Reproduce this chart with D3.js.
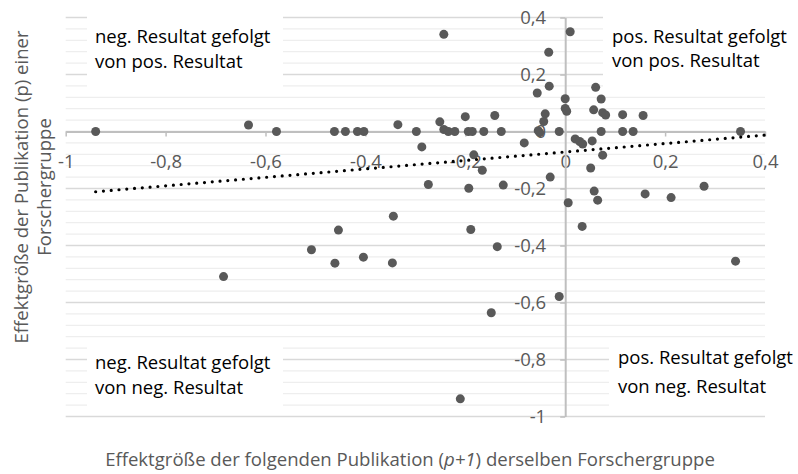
<!DOCTYPE html>
<html>
<head>
<meta charset="utf-8">
<script src="https://cdn.jsdelivr.net/npm/d3@7/dist/d3.min.js"></script>
<style>
  body { margin: 0; background: #fff; }
  text { font-family: "Open Sans", sans-serif; }
</style>
</head>
<body>
<svg id="chart" width="798" height="474"></svg>
<script>
// Effektgröße der folgenden Publikation (p+1) -> x
const nextEffect = [
  -0.940, -0.634, -0.578, -0.462, -0.440, -0.416, -0.403, -0.335, -0.298, -0.287,
  -0.251, -0.243, -0.243, -0.234, -0.221, -0.200, -0.194, -0.186, -0.163, -0.141,
  -0.128, -0.082, -0.056, -0.033, -0.032, -0.040, -0.043, -0.054, -0.051, -0.012,
   0.000,  0.000,  0.003,  0.010,  0.020,  0.029,  0.035,  0.054,  0.057,  0.061,
   0.072,  0.075,  0.081,  0.072,  0.075,  0.051,  0.115,  0.115,  0.136,  0.156,
   0.351, -0.183, -0.166, -0.274, -0.193, -0.124, -0.030,  0.006,  0.058,  0.065,
   0.160,  0.212,  0.278, -0.344, -0.454, -0.189,  0.034, -0.508, -0.461, -0.404,
  -0.346, -0.684, -0.136,  0.341, -0.012, -0.148, -0.210
];
// Effektgröße der Publikation (p) -> y
const prevEffect = [
   0.000,  0.023,  0.000,  0.000,  0.000,  0.000,  0.000,  0.024,  0.000, -0.054,
   0.034,  0.341,  0.007,  0.000,  0.000,  0.052,  0.000,  0.000,  0.000,  0.056,
   0.000, -0.040,  0.135,  0.278,  0.159,  0.062,  0.035,  0.003, -0.004,  0.000,
   0.115,  0.081,  0.071,  0.350, -0.026, -0.035, -0.044, -0.033,  0.076,  0.155,
   0.114,  0.066,  0.058,  0.000, -0.083, -0.128,  0.059,  0.000,  0.000,  0.056,
   0.000, -0.082, -0.136, -0.186, -0.199, -0.188, -0.160, -0.250, -0.209, -0.241,
  -0.219, -0.232, -0.192, -0.297, -0.346, -0.344, -0.333, -0.415, -0.462, -0.441,
  -0.461, -0.509, -0.404, -0.455, -0.579, -0.636, -0.938
];
const xTicks = [-1, -0.8, -0.6, -0.4, -0.2, 0, 0.2, 0.4];
const yTicks = [-1, -0.8, -0.6, -0.4, -0.2, 0, 0.2, 0.4];
const quadrantText = [
  ["neg. Resultat gefolgt", "von pos. Resultat"],
  ["pos. Resultat gefolgt", "von pos. Resultat"],
  ["neg. Resultat gefolgt", "von neg. Resultat"],
  ["pos. Resultat gefolgt", "von neg. Resultat"]
];

const svg = d3.select("#chart");
const x = d3.scaleLinear().domain([-1, 0.4]).range([65.7, 765]);
const y = d3.scaleLinear().domain([-1, 0.4]).range([416.5, 17.5]);
const fmt = v => String(Math.round(v * 10) / 10).replace(".", ",");

// horizontal gridlines, major every 0.2, minor every 0.04
const grid = d3.range(36).map(i => Math.round((-1 + i * 0.04) * 100) / 100);
svg.append("g")
  .selectAll("line")
  .data(grid)
  .join("line")
  .attr("x1", x(-1)).attr("x2", x(0.4))
  .attr("y1", d => y(d)).attr("y2", d => y(d))
  .attr("stroke", (d, i) => i % 5 === 0 ? "#d9d9d9" : "#eeeeee")
  .attr("stroke-width", 1.3);

// white boxes behind the quadrant labels
const boxes = [
  { x: 87, y: 12, w: 196, h: 77, tx: 95, ty: [37, 62] },
  { x: 603, y: 12, w: 195, h: 77, tx: 612, ty: [37, 61] },
  { x: 87, y: 346, w: 196, h: 62, tx: 95, ty: [363, 388] },
  { x: 609, y: 344, w: 189, h: 64, tx: 618, ty: [358, 387] }
];
const box = svg.append("g")
  .selectAll("g")
  .data(quadrantText)
  .join("g");
box.append("rect")
  .attr("x", (d, i) => boxes[i].x).attr("y", (d, i) => boxes[i].y)
  .attr("width", (d, i) => boxes[i].w).attr("height", (d, i) => boxes[i].h)
  .attr("fill", "#fff");
box.each(function(lines, i) {
  const b = boxes[i];
  d3.select(this).selectAll("text")
    .data(lines)
    .join("text")
    .attr("x", b.tx)
    .attr("y", (d, j) => b.ty[j])
    .attr("dy", "0.35em")
    .attr("fill", "#000")
    .style("font-size", "18.5px")
    .text(d => d);
});

// trend line (linear least squares)
const mx = d3.mean(nextEffect), my = d3.mean(prevEffect);
const slope = d3.sum(nextEffect, (v, i) => (v - mx) * (prevEffect[i] - my)) /
  d3.sum(nextEffect, v => (v - mx) * (v - mx));
const intercept = my - slope * mx;
const trendX = [d3.min(nextEffect), 0.4];

// axes crossing at 0
const xAxis = svg.append("g")
  .attr("transform", `translate(0,${y(0)})`)
  .call(d3.axisBottom(x).tickValues(xTicks).tickFormat(fmt).tickSize(5).tickSizeOuter(0).tickPadding(18));
const yAxis = svg.append("g")
  .attr("transform", `translate(${x(0)},0)`)
  .call(d3.axisLeft(y).tickValues(yTicks).tickFormat(fmt).tickSize(5).tickSizeOuter(0).tickPadding(14));
[xAxis, yAxis].forEach(a => {
  a.select(".domain").attr("stroke", "#bfbfbf").attr("stroke-width", 2);
  a.selectAll(".tick line").attr("stroke", "#bfbfbf").attr("stroke-width", 1.5);
  a.selectAll(".tick text")
    .attr("fill", "#595959")
    .style("font-family", "'Open Sans', sans-serif")
    .style("font-size", "18.5px");
});

// points
svg.append("g")
  .selectAll("circle")
  .data(nextEffect)
  .join("circle")
  .attr("cx", d => x(d))
  .attr("cy", (d, i) => y(prevEffect[i]))
  .attr("r", 4.5)
  .attr("fill", "#595959");

svg.append("line")
  .attr("x1", x(trendX[0])).attr("y1", y(intercept + slope * trendX[0]))
  .attr("x2", x(trendX[1])).attr("y2", y(intercept + slope * trendX[1]))
  .attr("stroke", "#000")
  .attr("stroke-width", 3.2)
  .attr("stroke-linecap", "round")
  .attr("stroke-dasharray", "0 7.8");

// axis titles
function fitWidth(sel, width) {
  const w = sel.node().getComputedTextLength();
  const fs = parseFloat(sel.style("font-size"));
  sel.style("font-size", (fs * width / w) + "px");
}

const xTitle = svg.append("text")
  .attr("x", 410).attr("y", 460).attr("dy", "0.35em")
  .attr("text-anchor", "middle")
  .attr("fill", "#595959")
  .style("font-size", "18px");
xTitle.append("tspan").text("Effektgröße der folgenden Publikation (");
xTitle.append("tspan").style("font-style", "italic").text("p+1");
xTitle.append("tspan").text(") derselben Forschergruppe");
fitWidth(xTitle, 610);

const yTitle = svg.append("g")
  .attr("transform", "translate(0,187) rotate(-90)");
const yLines = ["Effektgröße der Publikation (p) einer", "Forschergruppe"];
yTitle.selectAll("text")
  .data(yLines)
  .join("text")
  .attr("x", 0)
  .attr("y", (d, i) => i === 0 ? 22 : 45)
  .attr("dy", "0.35em")
  .attr("text-anchor", "middle")
  .attr("fill", "#595959")
  .style("font-size", xTitle.style("font-size"))
  .text(d => d);
</script>
</body>
</html>
